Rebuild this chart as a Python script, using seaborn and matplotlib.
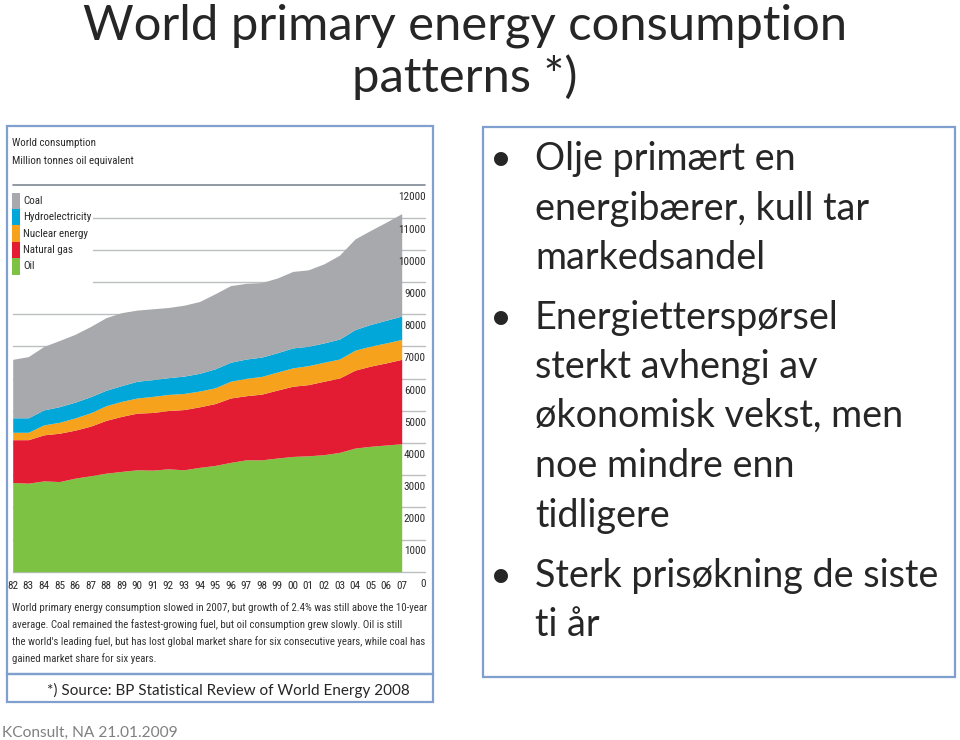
import matplotlib
matplotlib.use('Agg')
import matplotlib.pyplot as plt
import matplotlib.transforms as mtransforms
from matplotlib import font_manager as fm
from matplotlib.patches import Patch, Rectangle
import seaborn as sns

# data (million tonnes oil equivalent)
years = list(range(1982, 2008))
year_labels = [f'{y % 100:02d}' for y in years]
oil = [2770, 2750, 2820, 2800, 2905, 2980, 3060, 3115, 3165, 3155, 3195, 3165, 3240, 3300,
       3395, 3475, 3475, 3530, 3580, 3600, 3635, 3705, 3840, 3895, 3935, 3975]
gas = [1330, 1350, 1430, 1500, 1490, 1540, 1640, 1710, 1760, 1790, 1810, 1870, 1880, 1920,
       2000, 1990, 2040, 2110, 2180, 2210, 2280, 2310, 2420, 2490, 2550, 2620]
nuclear = [230, 230, 310, 340, 380, 415, 455, 465, 470, 500, 500, 500, 490, 490,
           520, 540, 550, 560, 570, 590, 590, 590, 620, 620, 620, 620]
hydro = [450, 450, 465, 485, 490, 500, 480, 490, 520, 520, 520, 540, 550, 590,
         590, 600, 600, 600, 620, 600, 600, 620, 640, 675, 705, 725]
coal = [1815, 1900, 1970, 2055, 2105, 2180, 2255, 2265, 2210, 2200, 2180, 2200, 2230, 2330,
        2380, 2350, 2315, 2320, 2375, 2375, 2455, 2605, 2815, 2920, 3045, 3180]
fuel_names = ['Coal', 'Hydroelectricity', 'Nuclear energy', 'Natural gas', 'Oil']
y_ticks = list(range(0, 13000, 1000))

title_lines = ['World primary energy consumption', 'patterns *)']
bullets = [
    ['Olje primært en', 'energibærer, kull tar', 'markedsandel'],
    ['Energietterspørsel', 'sterkt avhengi av', 'økonomisk vekst, men', 'noe mindre enn', 'tidligere'],
    ['Sterk prisøkning de siste', 'ti år'],
]
caption_lines = [
    'World primary energy consumption slowed in 2007, but growth of 2.4% was still above the 10-year',
    'average. Coal remained the fastest-growing fuel, but oil consumption grew slowly. Oil is still',
    "the world's leading fuel, but has lost global market share for six consecutive years, while coal has",
    'gained market share for six years.',
]
source_text = '*) Source: BP Statistical Review of World Energy 2008'
footer_text = 'KConsult, NA 21.01.2009'

# farger
colors = {'Coal': '#a7a9ac', 'Hydroelectricity': '#00a7d8', 'Nuclear energy': '#f6a21d',
          'Natural gas': '#e31b33', 'Oil': '#7dc243'}
BORDER = '#7f9fcf'
GRID = '#bcbec0'
INK = '#2a2a2a'

sns.set_theme(style='white')
plt.rcParams['font.family'] = ['Lato', 'DejaVu Sans']

# smal skrift til BP-grafen: ta den smaleste som finnes
fonts = {(f.name, f.stretch) for f in fm.fontManager.ttflist}
names = {n for n, _ in fonts}
NARROW = {'family': ['Roboto', 'DejaVu Sans']}
for cand in ['Liberation Sans Narrow', 'Roboto Condensed', 'Open Sans Condensed', 'Noto Sans Condensed']:
    if cand in names:
        NARROW = {'family': [cand, 'DejaVu Sans']}
        break
else:
    for n, s in fonts:
        if n in ('DejaVu Sans', 'Noto Sans', 'Open Sans') and s in ('condensed', 'semi-condensed'):
            NARROW = {'family': [n], 'stretch': s}
            break

W, H = 960, 740
fig = plt.figure(figsize=(W / 100, H / 100), dpi=100)
renderer = fig.canvas.get_renderer()


def fx(x):
    return x / W


def fy(y):
    return 1 - y / H


def text(x, y, s, width=None, **kw):
    t = fig.text(fx(x), fy(y), s, **kw)
    if width:
        w = t.get_window_extent(renderer).width
        t.set_fontsize(t.get_fontsize() * width / w)
    return t


def fit_size(s, width, **kw):
    t = text(0, -200, s, width=width, fontsize=10, **kw)
    size = t.get_fontsize()
    t.remove()
    return size


def frame(x0, y0, x1, y1):
    fig.add_artist(Rectangle((fx(x0), fy(y1)), fx(x1) - fx(x0), fy(y0) - fy(y1),
                             transform=fig.transFigure, fill=False, edgecolor=BORDER, lw=1.6))


# stacked area chart
x0, x1, ytop, ybot = 12.7, 401.7, 185.3, 571.7
ax = fig.add_axes([fx(x0), fy(ybot), fx(x1) - fx(x0), fy(ytop) - fy(ybot)])
ax.set_facecolor('none')
ax.set_axisbelow(False)
ax.stackplot(years, oil, gas, nuclear, hydro, coal,
             colors=[colors[n] for n in fuel_names[::-1]], linewidth=0, zorder=2)
for v in y_ticks:
    ax.axhline(v, xmin=0, xmax=(425 - x0) / (x1 - x0), color='#7e8794' if v == 12000 else GRID,
               lw=1.2 if v == 12000 else 1.0, zorder=1, clip_on=False)
ax.set_xlim(1982, 2007)
ax.set_ylim(0, 12000)
sns.despine(ax=ax, left=True, bottom=True)

tick_size = fit_size('12000', 27, **NARROW)
ax.set_xticks(years, year_labels, **NARROW)
ax.set_yticks(y_ticks, [str(v) for v in y_ticks], ha='right', **NARROW)
ax.yaxis.tick_right()
ax.tick_params(axis='both', length=0, labelsize=tick_size, labelcolor=INK)
ax.tick_params(axis='x', pad=7)
ax.tick_params(axis='y', pad=17.5)
shift = mtransforms.ScaledTranslation(0, -0.11, fig.dpi_scale_trans)
for lab in ax.get_yticklabels():
    lab.set_transform(lab.get_transform() + shift)

# legende: fargefelt som ligger tett i en stripe, ca 16.5 px hver
handles = [Patch(facecolor=colors[n], edgecolor='none') for n in fuel_names]
leg_size = fit_size('Hydroelectricity', 68, **NARROW)
fs_px = leg_size * 100 / 72


def make_legend(hh):
    return fig.legend(handles, fuel_names, loc='upper left', bbox_to_anchor=(fx(10.5), fy(191)),
                      frameon=True, facecolor='white', edgecolor='none', fancybox=False,
                      framealpha=1, borderpad=0.15, borderaxespad=0,
                      labelspacing=-0.35 * (hh - 0.7), handlelength=8 / fs_px, handleheight=hh,
                      handletextpad=0.25, prop=dict(NARROW, size=leg_size), labelcolor=INK)


hh = (16.5 / fs_px - 0.245) / 0.65
leg = make_legend(hh)
for _ in range(6):
    fig.canvas.draw()
    ys = [p.get_window_extent(renderer).y0 for p in leg.get_patches()]
    step = (ys[0] - ys[-1]) / 4
    if abs(step - 16.5) < 0.1:
        break
    hh *= 16.5 / step
    leg.remove()
    leg = make_legend(hh)

# feltene skal ikke overlappe: kutt hoyden ned til radavstanden, og sentrer teksten
fig.canvas.draw()
pats = leg.get_patches()
boxes = [p.get_window_extent(renderer) for p in pats]
step = (boxes[0].y0 - boxes[-1].y0) / 4
ratio = step / boxes[0].height
for p in pats:
    h = p.get_height()
    p.set_y(p.get_y() + h * (1 - ratio))
    p.set_height(h * ratio)
fig.canvas.draw()
pb = pats[0].get_window_extent(renderer)
tb = leg.get_texts()[0].get_window_extent(renderer)
dy = ((pb.y0 + pb.y1) / 2 - (tb.y0 + tb.y1) / 2) / 100
for t in leg.get_texts():
    t.set_transform(t.get_transform() + mtransforms.ScaledTranslation(0, dy, fig.dpi_scale_trans))

text(12, 143, 'World consumption', width=83, va='center', fontsize=10, color=INK, **NARROW)
text(12, 161, 'Million tonnes oil equivalent', width=121, va='center', fontsize=10, color=INK,
     **NARROW)

cap = text(12, 608, caption_lines[0], width=411, va='center', fontsize=10, color='#333333',
           **NARROW)
for i, line in enumerate(caption_lines[1:], start=1):
    text(12, 608 + i * 16.8, line, va='center', fontsize=cap.get_fontsize(), color='#333333',
         **NARROW)

frame(7, 126, 433, 674)
frame(7, 674, 433, 702)
frame(483, 127, 955, 677)

# tittel
t = text(465, 40, title_lines[0], width=766, ha='center', va='baseline', fontsize=36)
text(465, 92, title_lines[1], ha='center', va='baseline', fontsize=t.get_fontsize())

# punktliste
fs = fit_size(bullets[2][0], 405)
baselines = [[170, 220, 269], [329, 378, 427, 477, 527], [587, 636]]
for group, ys in zip(bullets, baselines):
    text(501, ys[0], '•', ha='center', va='baseline', fontsize=fs)
    for line, yb in zip(group, ys):
        text(535, yb, line, va='baseline', fontsize=fs)

text(228, 695, source_text, width=366, ha='center', va='baseline', fontsize=14)
text(2, 737, footer_text, width=176, va='baseline', fontsize=14, color='#808080')

fig.savefig('out.png', dpi=100, facecolor='white')
